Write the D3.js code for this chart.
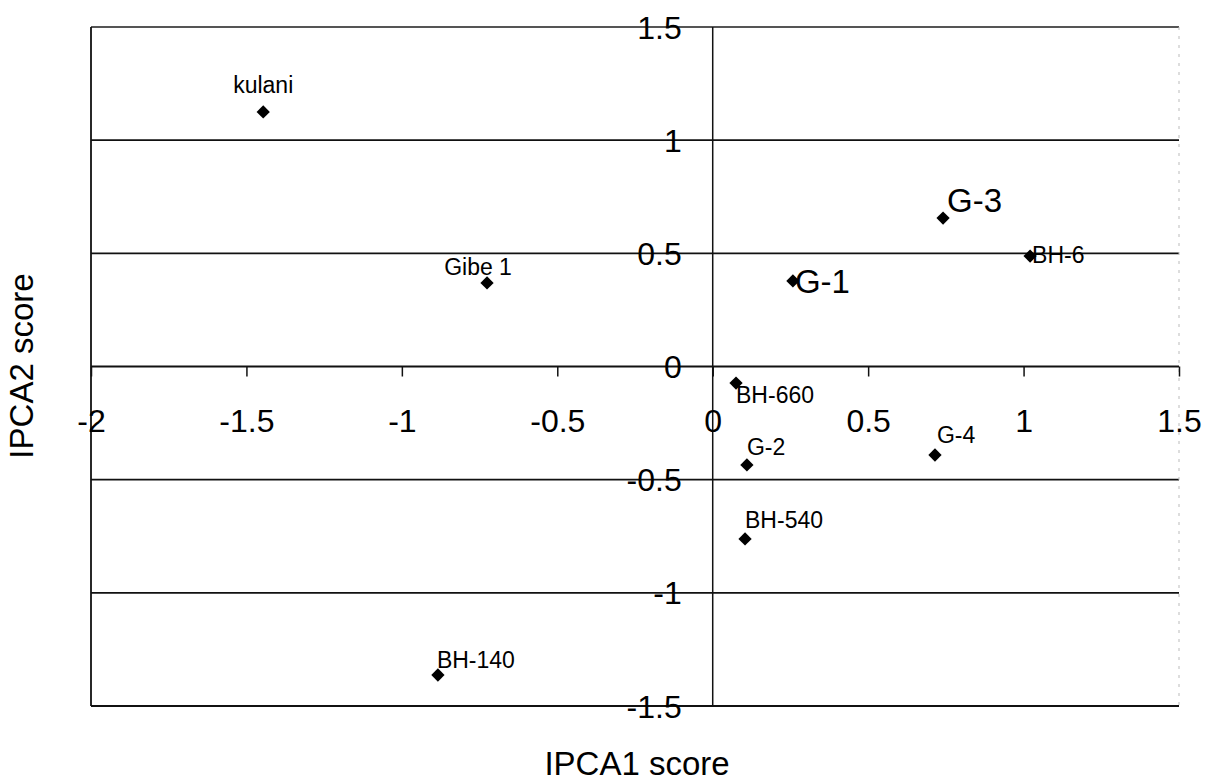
<!DOCTYPE html>
<html>
<head>
<meta charset="utf-8">
<script src="https://cdn.jsdelivr.net/npm/d3@7"></script>
<style>
  body { margin: 0; background: #fff; }
  svg { display: block; font-family: "Liberation Sans", Arial, sans-serif; }
</style>
</head>
<body>
<script>
const width = 1218;
const height = 784;

// genotype scores
const names = ['kulani', 'Gibe 1', 'G-1', 'G-3', 'BH-6', 'BH-660', 'G-4', 'G-2', 'BH-540', 'BH-140'];
const ipca1 = [-1.446, -0.726, 0.258, 0.741, 1.021, 0.075, 0.715, 0.110, 0.104, -0.884];
const ipca2 = [1.125, 0.369, 0.378, 0.656, 0.488, -0.073, -0.391, -0.435, -0.762, -1.363];

const xTicks = [-2, -1.5, -1, -0.5, 0, 0.5, 1, 1.5];
const yTicks = [1.5, 1, 0.5, 0, -0.5, -1, -1.5];

// label placement (dx, dy from the marker), big labels for G-1 and G-3
const labelDx = [0, -9, 2, 4, 2, 0, 2, 0, 0, -1];
const labelDy = [-19, -8, 12, -6, 7, 20, -12, -10, -11, -7];
const labelAnchor = ['middle', 'middle', 'start', 'start', 'start', 'start', 'start', 'start', 'start', 'start'];
const bigLabels = ['G-1', 'G-3'];

const plotLeft = 91, plotRight = 1179, plotTop = 27, plotBottom = 706;

const x = d3.scaleLinear().domain([-2, 1.5]).range([plotLeft, plotRight]);
const y = d3.scaleLinear().domain([-1.5, 1.5]).range([plotBottom, plotTop]);
const fmt = d => d3.format('~g')(d).replace('−', '-');

const svg = d3.select('body')
    .append('svg')
    .attr('width', width)
    .attr('height', height);

// horizontal gridlines
svg.append('g')
    .selectAll('line')
    .data(yTicks)
    .enter()
    .append('line')
    .attr('x1', plotLeft)
    .attr('x2', plotRight)
    .attr('y1', d => y(d))
    .attr('y2', d => y(d))
    .attr('stroke', d => d === 1.5 ? '#555' : '#111')
    .attr('stroke-width', 1.8);

// left border and faint right border
svg.append('line')
    .attr('x1', plotLeft).attr('x2', plotLeft)
    .attr('y1', plotTop).attr('y2', plotBottom)
    .attr('stroke', '#111').attr('stroke-width', 1.8);
svg.append('line')
    .attr('x1', plotRight).attr('x2', plotRight)
    .attr('y1', plotTop).attr('y2', plotBottom)
    .attr('stroke', '#bbb').attr('stroke-width', 1)
    .attr('stroke-dasharray', '3,6');

// y axis through x = 0
svg.append('line')
    .attr('x1', x(0)).attr('x2', x(0))
    .attr('y1', plotTop).attr('y2', plotBottom)
    .attr('stroke', '#111').attr('stroke-width', 1.5);

// x axis along y = 0, ticks pointing down
const xAxis = d3.axisBottom(x)
    .tickValues(xTicks)
    .tickSize(10)
    .tickFormat(fmt);

const gx = svg.append('g')
    .attr('transform', `translate(0, ${y(0)})`)
    .call(xAxis);
gx.select('.domain').remove();
gx.selectAll('.tick line').attr('stroke', '#111').attr('stroke-width', 1.5);
gx.selectAll('.tick text')
    .attr('y', 0)
    .attr('dy', 65)
    .attr('font-size', 32)
    .attr('font-family', '"Liberation Sans", Arial, sans-serif')
    .attr('fill', '#000');

// y tick labels sitting on their gridlines, left of the y axis
svg.append('g')
    .selectAll('text')
    .data(yTicks)
    .enter()
    .append('text')
    .attr('x', x(0) - 31)
    .attr('y', d => y(d) + 11.5)
    .attr('text-anchor', 'end')
    .attr('font-size', 32)
    .text(fmt);

// markers
const diamond = d3.symbol().type(d3.symbolSquare).size(88);
svg.append('g')
    .selectAll('path')
    .data(names)
    .enter()
    .append('path')
    .attr('d', diamond)
    .attr('transform', (d, i) => `translate(${x(ipca1[i])}, ${y(ipca2[i])}) rotate(45)`)
    .attr('fill', '#000');

// point labels
svg.append('g')
    .selectAll('text')
    .data(names)
    .enter()
    .append('text')
    .attr('x', (d, i) => x(ipca1[i]) + labelDx[i])
    .attr('y', (d, i) => y(ipca2[i]) + labelDy[i])
    .attr('text-anchor', (d, i) => labelAnchor[i])
    .attr('font-size', d => bigLabels.includes(d) ? 33 : 23)
    .text(d => d);

// axis titles
svg.append('text')
    .attr('x', 637)
    .attr('y', 775)
    .attr('text-anchor', 'middle')
    .attr('font-size', 33)
    .text('IPCA1 score');

svg.append('text')
    .attr('transform', 'translate(33, 366) rotate(-90)')
    .attr('text-anchor', 'middle')
    .attr('font-size', 33)
    .text('IPCA2 score');
</script>
</body>
</html>
